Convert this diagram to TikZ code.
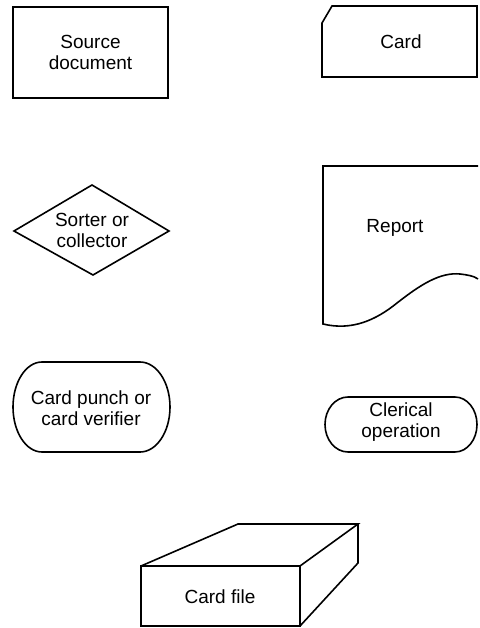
\documentclass[tikz,border=0pt]{standalone}
\usepackage{fontspec}
\setmainfont{Liberation Sans}
\begin{document}
\begin{tikzpicture}[x=1pt,y=-1pt,
  outline/.style={draw=black,line width=1.6pt,line join=miter},
  label/.style={font=\fontsize{19}{21}\selectfont,align=center,inner sep=0pt}]
\useasboundingbox (0,0) rectangle (479,628);

% Source document
\draw[outline] (13,7) rectangle (168,98);
\node[label] (src) at (90.5,52.5) {Source\\document};

% Card with clipped corner
\draw[outline] (332,6) -- (477,6) -- (477,77) -- (322,77) -- (322,23) -- cycle;
\node[label] (card) at (401,42) {Card};

% Sorter or collector
\draw[outline] (14,231) -- (92,185) -- (169,231) -- (93,275) -- cycle;
\node[label] (sorter) at (92,230) {Sorter or\\collector};

% Report with wavy lower edge
\draw[outline] (478,166) -- (323,166) -- (323,324)
  .. controls (352,331) and (376,320) .. (397,303)
  .. controls (420,285) and (440,272) .. (460,274)
  .. controls (468,275) and (474,276) .. (478,279);
\node[label] (report) at (395,228) {Report};

% Card punch or card verifier
\draw[outline] (42,362) -- (140,362) arc[start angle=-90,end angle=90,x radius=30,y radius=45]
  -- (42,452) arc[start angle=90,end angle=270,x radius=29,y radius=45] -- cycle;
\node[label] (punch) at (91,408) {Card punch or\\card verifier};

% Clerical operation
\draw[outline] (348,397) -- (455,397) arc[start angle=-90,end angle=90,x radius=22,y radius=27.5]
  -- (348,452) arc[start angle=90,end angle=270,x radius=23,y radius=27.5] -- cycle;
\node[label] (clerical) at (401,422) {Clerical\\operation};

% Card file box
\draw[outline] (141,566) rectangle (300,626);
\draw[outline] (141,566) -- (238,524) -- (358,524) -- (300,566);
\draw[outline] (358,524) -- (358,563) -- (300,626);
\node[label] (file) at (220,597) {Card file};
\end{tikzpicture}
\end{document}
